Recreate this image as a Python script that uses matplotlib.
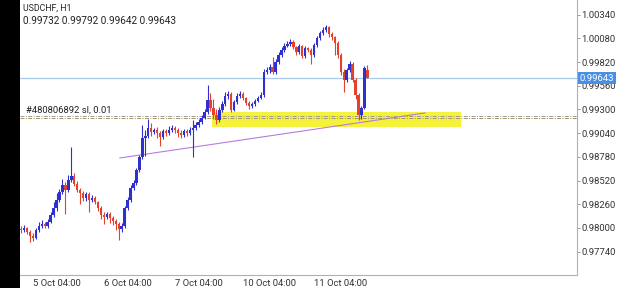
import matplotlib
matplotlib.use("Agg")
import matplotlib.pyplot as plt
from matplotlib.patches import Rectangle

plt.rcParams['font.family'] = ['Roboto', 'DejaVu Sans']

# H1 candles, 4 Oct 16:00 .. 11 Oct 13:00 (bar index 0..117)
opens = [
    0.97990, 0.97978, 0.98000, 0.97956, 0.97912, 0.97890, 0.97978, 0.98022, 0.98044, 0.98022,
    0.98066, 0.98142, 0.98219, 0.98307, 0.98395, 0.98472, 0.98417, 0.98526, 0.98570, 0.98483,
    0.98417, 0.98384, 0.98329, 0.98373, 0.98307, 0.98329, 0.98285, 0.98219, 0.98142, 0.98121,
    0.98153, 0.98110, 0.98077, 0.98044, 0.97989, 0.98022, 0.98219, 0.98307, 0.98439, 0.98494,
    0.98636, 0.98779, 0.98987, 0.99009, 0.99097, 0.99053, 0.99075, 0.99042, 0.98998, 0.99064,
    0.99042, 0.99075, 0.99097, 0.99075, 0.99042, 0.99020, 0.99064, 0.99042, 0.99075, 0.99097,
    0.99130, 0.99163, 0.99207, 0.99272, 0.99404, 0.99316, 0.99239, 0.99185, 0.99294, 0.99360,
    0.99448, 0.99470, 0.99294, 0.99382, 0.99448, 0.99470, 0.99426, 0.99371, 0.99338, 0.99360,
    0.99393, 0.99426, 0.99459, 0.99711, 0.99733, 0.99766, 0.99711, 0.99821, 0.99898, 0.99953,
    0.99996, 1.00018, 1.00040, 0.99985, 0.99931, 0.99996, 0.99887, 0.99974, 0.99953, 0.99898,
    1.00007, 1.00084, 1.00139, 1.00172, 1.00205, 1.00128, 1.00095, 1.00029, 0.99898, 0.99711,
    0.99623, 0.99733, 0.99799, 0.99623, 0.99459, 0.99239, 0.99316, 0.99732,
]
highs = [
    0.98020, 0.98030, 0.98015, 0.97975, 0.97940, 0.98000, 0.98060, 0.98090, 0.98070, 0.98100,
    0.98170, 0.98280, 0.98380, 0.98430, 0.98540, 0.98500, 0.98580, 0.98888, 0.98600, 0.98510,
    0.98440, 0.98410, 0.98400, 0.98400, 0.98360, 0.98350, 0.98300, 0.98240, 0.98170, 0.98180,
    0.98170, 0.98130, 0.98100, 0.98060, 0.98050, 0.98240, 0.98340, 0.98470, 0.98530, 0.98660,
    0.98800, 0.99130, 0.99080, 0.99200, 0.99150, 0.99100, 0.99110, 0.99060, 0.99090, 0.99090,
    0.99120, 0.99130, 0.99120, 0.99100, 0.99070, 0.99090, 0.99090, 0.99110, 0.99180, 0.99160,
    0.99200, 0.99240, 0.99300, 0.99569, 0.99480, 0.99420, 0.99300, 0.99330, 0.99390, 0.99490,
    0.99500, 0.99490, 0.99400, 0.99480, 0.99500, 0.99490, 0.99440, 0.99390, 0.99380, 0.99420,
    0.99450, 0.99490, 0.99740, 0.99770, 0.99800, 0.99880, 0.99850, 0.99930, 0.99980, 1.00030,
    1.00050, 1.00070, 1.00060, 1.00000, 1.00020, 1.00010, 1.00000, 0.99990, 0.99970, 1.00030,
    1.00110, 1.00160, 1.00200, 1.00230, 1.00220, 1.00150, 1.00110, 1.00050, 0.99920, 0.99740,
    0.99760, 0.99830, 0.99820, 0.99650, 0.99480, 0.99340, 0.99780, 0.99792,
]
lows = [
    0.97950, 0.97960, 0.97930, 0.97846, 0.97860, 0.97880, 0.97960, 0.98000, 0.97995, 0.98000,
    0.98050, 0.98120, 0.98190, 0.98280, 0.98370, 0.98150, 0.98400, 0.98500, 0.98460, 0.98390,
    0.98260, 0.98300, 0.98300, 0.98180, 0.98280, 0.98260, 0.98190, 0.98100, 0.98040, 0.98100,
    0.98050, 0.98030, 0.97980, 0.97868, 0.97960, 0.98000, 0.98200, 0.98290, 0.98420, 0.98470,
    0.98610, 0.98760, 0.98790, 0.98990, 0.99010, 0.99030, 0.98990, 0.98900, 0.98980, 0.99010,
    0.99020, 0.99050, 0.99040, 0.99000, 0.98990, 0.99000, 0.99010, 0.99020, 0.98779, 0.99080,
    0.99110, 0.99140, 0.99190, 0.99250, 0.99280, 0.99200, 0.99140, 0.99160, 0.99270, 0.99340,
    0.99420, 0.99270, 0.99280, 0.99360, 0.99430, 0.99400, 0.99350, 0.99310, 0.99320, 0.99340,
    0.99380, 0.99410, 0.99440, 0.99690, 0.99700, 0.99690, 0.99690, 0.99800, 0.99880, 0.99930,
    0.99980, 1.00000, 0.99960, 0.99900, 0.99910, 0.99860, 0.99870, 0.99930, 0.99800, 0.99880,
    0.99990, 1.00060, 1.00120, 1.00150, 1.00100, 1.00060, 0.99900, 0.99860, 0.99680, 0.99492,
    0.99600, 0.99710, 0.99600, 0.99420, 0.99185, 0.99200, 0.99300, 0.99642,
]
closes = [
    0.97978, 0.98000, 0.97956, 0.97912, 0.97890, 0.97978, 0.98022, 0.98044, 0.98022, 0.98066,
    0.98142, 0.98219, 0.98307, 0.98395, 0.98472, 0.98417, 0.98526, 0.98570, 0.98483, 0.98417,
    0.98384, 0.98329, 0.98373, 0.98307, 0.98329, 0.98285, 0.98219, 0.98142, 0.98121, 0.98153,
    0.98110, 0.98077, 0.98044, 0.97989, 0.98022, 0.98219, 0.98307, 0.98439, 0.98494, 0.98636,
    0.98779, 0.98987, 0.99009, 0.99097, 0.99053, 0.99075, 0.99042, 0.98998, 0.99064, 0.99042,
    0.99075, 0.99097, 0.99075, 0.99042, 0.99020, 0.99064, 0.99042, 0.99075, 0.99097, 0.99130,
    0.99163, 0.99207, 0.99272, 0.99404, 0.99316, 0.99239, 0.99185, 0.99294, 0.99360, 0.99448,
    0.99470, 0.99294, 0.99382, 0.99448, 0.99470, 0.99426, 0.99371, 0.99338, 0.99360, 0.99393,
    0.99426, 0.99459, 0.99711, 0.99733, 0.99766, 0.99711, 0.99821, 0.99898, 0.99953, 0.99996,
    1.00018, 1.00040, 0.99985, 0.99931, 0.99996, 0.99887, 0.99974, 0.99953, 0.99898, 1.00007,
    1.00084, 1.00139, 1.00172, 1.00205, 1.00128, 1.00095, 1.00029, 0.99898, 0.99711, 0.99623,
    0.99733, 0.99799, 0.99623, 0.99459, 0.99239, 0.99316, 0.99755, 0.99643,
]

ytick_values = [1.00340, 1.00080, 0.99820, 0.99560, 0.99300, 0.99040,
                0.98780, 0.98520, 0.98260, 0.98000, 0.97740]
xtick_bars = [12, 36, 60, 84, 108]
xtick_labels = ["5 Oct 04:00", "6 Oct 04:00", "7 Oct 04:00", "10 Oct 04:00", "11 Oct 04:00"]

symbol_title = "USDCHF, H1"
last_ohlc = "0.99732 0.99792 0.99642 0.99643"
current_price = 0.99643
sl_levels = [0.99229, 0.99207]
sl_label = "#480806892 sl, 0.01"
zone_bars = (64.5, 148.6)
zone_prices = (0.99108, 0.99273)
trend_bars = (33.4, 136.5)
trend_prices = (0.98768, 0.99262)

BULL = "#3030d0"
BEAR = "#e4412a"

fig = plt.figure(figsize=(6.25, 2.88), dpi=100)
fig.patches.append(Rectangle((0, 0), 20 / 625, 1, transform=fig.transFigure,
                             facecolor="black", edgecolor="none", zorder=0))
ax = fig.add_axes([20 / 625, 13 / 288, 557 / 625, 275 / 288])

# zone + trendline under the candles
ax.add_patch(Rectangle((zone_bars[0], zone_prices[0]), zone_bars[1] - zone_bars[0],
                       zone_prices[1] - zone_prices[0], facecolor="#f4f23a",
                       edgecolor="none", zorder=1))
ax.plot(trend_bars, trend_prices, color="#b77be0", lw=0.8, zorder=2)

ax.axhline(current_price, color="#a9c8ea", lw=0.9, zorder=2)
ax.axhline(sl_levels[0], color="#9a9a9a", lw=0.7, ls=(0, (4, 1.5, 1, 1.5)), zorder=2)
ax.axhline(sl_levels[1], color="#a89060", lw=0.7, ls=(0, (4, 1.5, 1, 1.5)), zorder=2)
ax.text(1.7, sl_levels[0] + 0.0001, sl_label, fontsize=6.8, color="#222222",
        va="bottom", ha="left", zorder=4)

for i, (o, h, l, c) in enumerate(zip(opens, highs, lows, closes)):
    col = BULL if c >= o else BEAR
    ax.vlines(i, l, h, color=col, lw=0.8, zorder=3)
    ax.bar(i, max(abs(c - o), 0.00004), bottom=min(o, c), width=0.8,
           color=col, edgecolor="none", zorder=3)

ax.set_xlim(-0.34, 187.8)
ax.set_ylim(0.97484, 1.00501)

ax.yaxis.tick_right()
ax.set_yticks(ytick_values)
ax.set_yticklabels([f"{v:.5f}" for v in ytick_values])
ax.tick_params(axis="y", length=2, width=0.6, color="#888888", pad=1,
               labelsize=6.8, labelcolor="#333333")
ax.set_xticks(xtick_bars)
ax.set_xticklabels(xtick_labels)
ax.tick_params(axis="x", length=0, pad=3, labelsize=6.8, labelcolor="#333333")

for side in ["left", "top"]:
    ax.spines[side].set_visible(False)
for side in ["right", "bottom"]:
    ax.spines[side].set_color("#b0b0b0")
    ax.spines[side].set_linewidth(0.8)

ax.annotate(f"{current_price:.5f}", xy=(1.0, current_price),
            xycoords=("axes fraction", "data"), xytext=(2, 0),
            textcoords="offset points", ha="left", va="center",
            fontsize=6.8, color="white", zorder=6, annotation_clip=False,
            bbox=dict(boxstyle="square,pad=0.15", facecolor="#4a8fe6", edgecolor="none"))

ax.text(0.006, 0.985, symbol_title, transform=ax.transAxes, fontsize=6.3,
        color="#222222", va="top", ha="left")
ax.text(0.006, 0.94, last_ohlc, transform=ax.transAxes, fontsize=7.2,
        color="#222222", va="top", ha="left")

fig.savefig("out.png", dpi=100)
